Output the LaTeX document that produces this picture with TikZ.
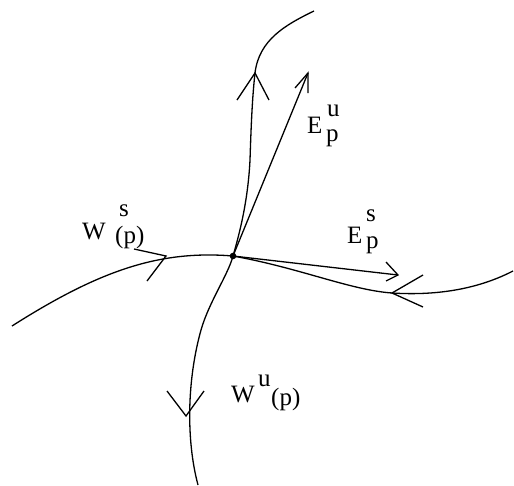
\documentclass[tikz,border=0pt]{standalone}
\usepackage{fontspec}
\setmainfont{Liberation Serif}
\begin{document}
\begin{tikzpicture}[x=1pt,y=-1pt,
  curve/.style={line width=1.3pt, line join=round},
  arm/.style={line width=1.3pt, line join=miter},
  lbl/.style={inner sep=0pt, anchor=base west, font=\fontsize{25}{29}\selectfont}]
\useasboundingbox (0,0) rectangle (514,485);
\coordinate (p) at (233,256);
% stable manifold W^s
\draw[curve] (12,326) .. controls (100,270) and (160,250) .. (p)
  .. controls (300,268) and (350,290) .. (392,293)
  .. controls (440,296) and (480,288) .. (513,271);
% unstable manifold W^u
\draw[curve] (198,485) .. controls (186,440) and (187,380) .. (201,330)
  .. controls (209,302) and (228,275) .. (p)
  .. controls (240,232) and (248,200) .. (250,160)
  .. controls (251,130) and (252,100) .. (255,73)
  .. controls (259,40) and (285,25) .. (314,11);
% tangent vectors
\coordinate (eu) at (308,73);
\coordinate (es) at (398,275);
\draw[curve] (p) -- (eu);
\draw[curve] (p) -- (es);
% arrowheads
\draw[arm] (295,88) -- (eu) -- (308,93);
\draw[arm] (386,262) -- (es) -- (386,281);
\draw[arm] (134,249) -- (166,256) -- (147,281);
\draw[arm] (423,275) -- (392,293) -- (423,307);
\draw[arm] (167,391) -- (186,416) -- (204,391);
\draw[arm] (237,100) -- (255,73) -- (269,100);
\fill (p) circle (3.3);
% labels
\node[lbl] (Eu) at (307,133) {E};
\node[lbl] (Eusup) at (327,116) {u};
\node[lbl] (Eusub) at (326,141) {p};
\node[lbl] (Ws) at (82,239) {W};
\node[lbl] (Wssup) at (119,216) {s};
\node[lbl] (Wssub) at (115,243) {(p)};
\node[lbl] (Es) at (347,243) {E};
\node[lbl] (Essup) at (366,221) {s};
\node[lbl] (Essub) at (366,248) {p};
\node[lbl] (Wu) at (231,402) {W};
\node[lbl] (Wusup) at (258,386) {u};
\node[lbl] (Wusub) at (271,405) {(p)};
\end{tikzpicture}
\end{document}
